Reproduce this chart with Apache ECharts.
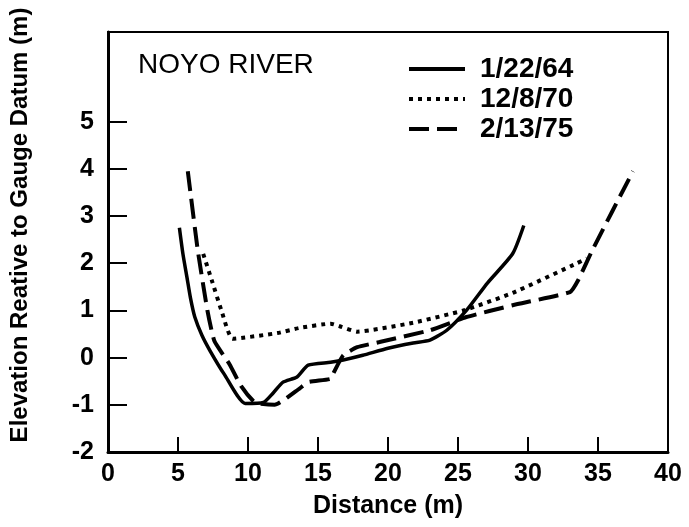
<!DOCTYPE html>
<html>
<head>
<meta charset="utf-8">
<script src="https://cdn.jsdelivr.net/npm/echarts@6/dist/echarts.min.js"></script>
<style>
  html, body { margin: 0; padding: 0; background: #fff; }
  #chart { width: 689px; height: 527px; }
</style>
</head>
<body>
<div id="chart"></div>
<script>
// cross-section profiles, [distance (m), elevation (m)]
const profile64 = [[5.1, 2.75], [5.35, 2.2], [5.64, 1.7], [5.9, 1.25], [6.2, 0.86], [6.7, 0.48],
  [7.3, 0.14], [8.3, -0.35], [9.8, -0.97], [11.1, -0.95], [11.8, -0.75], [12.5, -0.52],
  [13.5, -0.41], [14.3, -0.16], [15.9, -0.1], [16.8, -0.05], [18.2, 0.05], [20, 0.2],
  [21.8, 0.31], [23, 0.37], [24.2, 0.58], [25.6, 1.0], [27.1, 1.58], [28.9, 2.2], [29.7, 2.8]]
const profile70 = [[6.8, 2.2], [7.4, 1.65], [8.1, 1.0], [8.9, 0.4], [12.1, 0.52], [13.7, 0.63],
  [15.9, 0.72], [16.7, 0.65], [17.8, 0.55], [21.8, 0.74], [25.4, 1.0], [28.9, 1.37],
  [33.5, 2.0], [34.2, 2.1]]
const profile75 = [[5.7, 3.95], [6.4, 2.3], [7.1, 1.0], [7.6, 0.35], [8.7, -0.15], [9.5, -0.6],
  [10.5, -0.95], [11.9, -1.0], [13.7, -0.65], [14.3, -0.52], [15.9, -0.45], [16.1, -0.33],
  [16.8, 0.05], [17.8, 0.22], [19.4, 0.33], [23, 0.58], [25.6, 0.86], [28.9, 1.11],
  [33, 1.39], [33.6, 1.65], [34.6, 2.28], [37.5, 3.95]]
const seriesNames = ['1/22/64', '12/8/70', '2/13/75']
const yTicks = [-2, -1, 0, 1, 2, 3, 4, 5]

const font = 'Liberation Sans, Arial, sans-serif'
let myChart = echarts.init(document.getElementById('chart'))

let option = {
  animation: false,
  backgroundColor: '#fff',
  title: {
    text: 'NOYO RIVER',
    left: 133,
    top: 46,
    textStyle: {fontFamily: font, fontSize: 28, fontWeight: 'normal', color: '#000'}
  },
  legend: {
    orient: 'vertical',
    left: 402,
    top: 50,
    itemWidth: 56,
    itemHeight: 14,
    itemGap: 2,
    data: seriesNames,
    itemStyle: {opacity: 0},
    lineStyle: {width: 4},
    textStyle: {fontFamily: font, fontSize: 28, fontWeight: 'bold', color: '#000', padding: [0, 0, 0, 10]}
  },
  grid: {
    left: 108,
    right: 21,
    top: 32,
    bottom: 75,
    show: true,
    borderColor: '#000',
    borderWidth: 2
  },
  xAxis: {
    type: 'value',
    min: 0,
    max: 40,
    interval: 5,
    name: 'Distance (m)',
    nameLocation: 'middle',
    nameGap: 42,
    nameTextStyle: {fontFamily: font, fontSize: 25, fontWeight: 'bold', color: '#000'},
    axisLine: {onZero: false, lineStyle: {color: '#000', width: 3}},
    axisTick: {inside: true, length: 15, lineStyle: {color: '#000', width: 2}},
    axisLabel: {fontFamily: font, fontSize: 25, fontWeight: 'bold', color: '#000', margin: 10},
    splitLine: {show: false}
  },
  yAxis: {
    type: 'value',
    min: -2,
    max: 6.9,
    interval: 1,
    name: 'Elevation Reative to Gauge Datum (m)',
    nameLocation: 'middle',
    nameGap: 76,
    nameTextStyle: {fontFamily: font, fontSize: 24, fontWeight: 'bold', color: '#000', padding: [0, 0, 0, 34]},
    axisLine: {onZero: false, lineStyle: {color: '#000', width: 3}},
    axisTick: {inside: true, length: 19, customValues: yTicks, lineStyle: {color: '#000', width: 2}},
    axisLabel: {fontFamily: font, fontSize: 25, fontWeight: 'bold', color: '#000', margin: 14, customValues: yTicks},
    splitLine: {show: false}
  },
  series: [
    {
      name: seriesNames[0],
      type: 'line',
      data: profile64,
      symbol: 'none',
      smooth: 0.2,
      color: '#000',
      lineStyle: {color: '#000', width: 3.5, type: 'solid'}
    },
    {
      name: seriesNames[1],
      type: 'line',
      data: profile70,
      symbol: 'none',
      smooth: 0.15,
      color: '#000',
      lineStyle: {color: '#000', width: 4, type: [4, 5], cap: 'butt'}
    },
    {
      name: seriesNames[2],
      type: 'line',
      data: profile75,
      symbol: 'none',
      smooth: 0.15,
      color: '#000',
      lineStyle: {color: '#000', width: 4, type: [20, 8], cap: 'butt'}
    }
  ]
}
myChart.setOption(option)
</script>
</body>
</html>
